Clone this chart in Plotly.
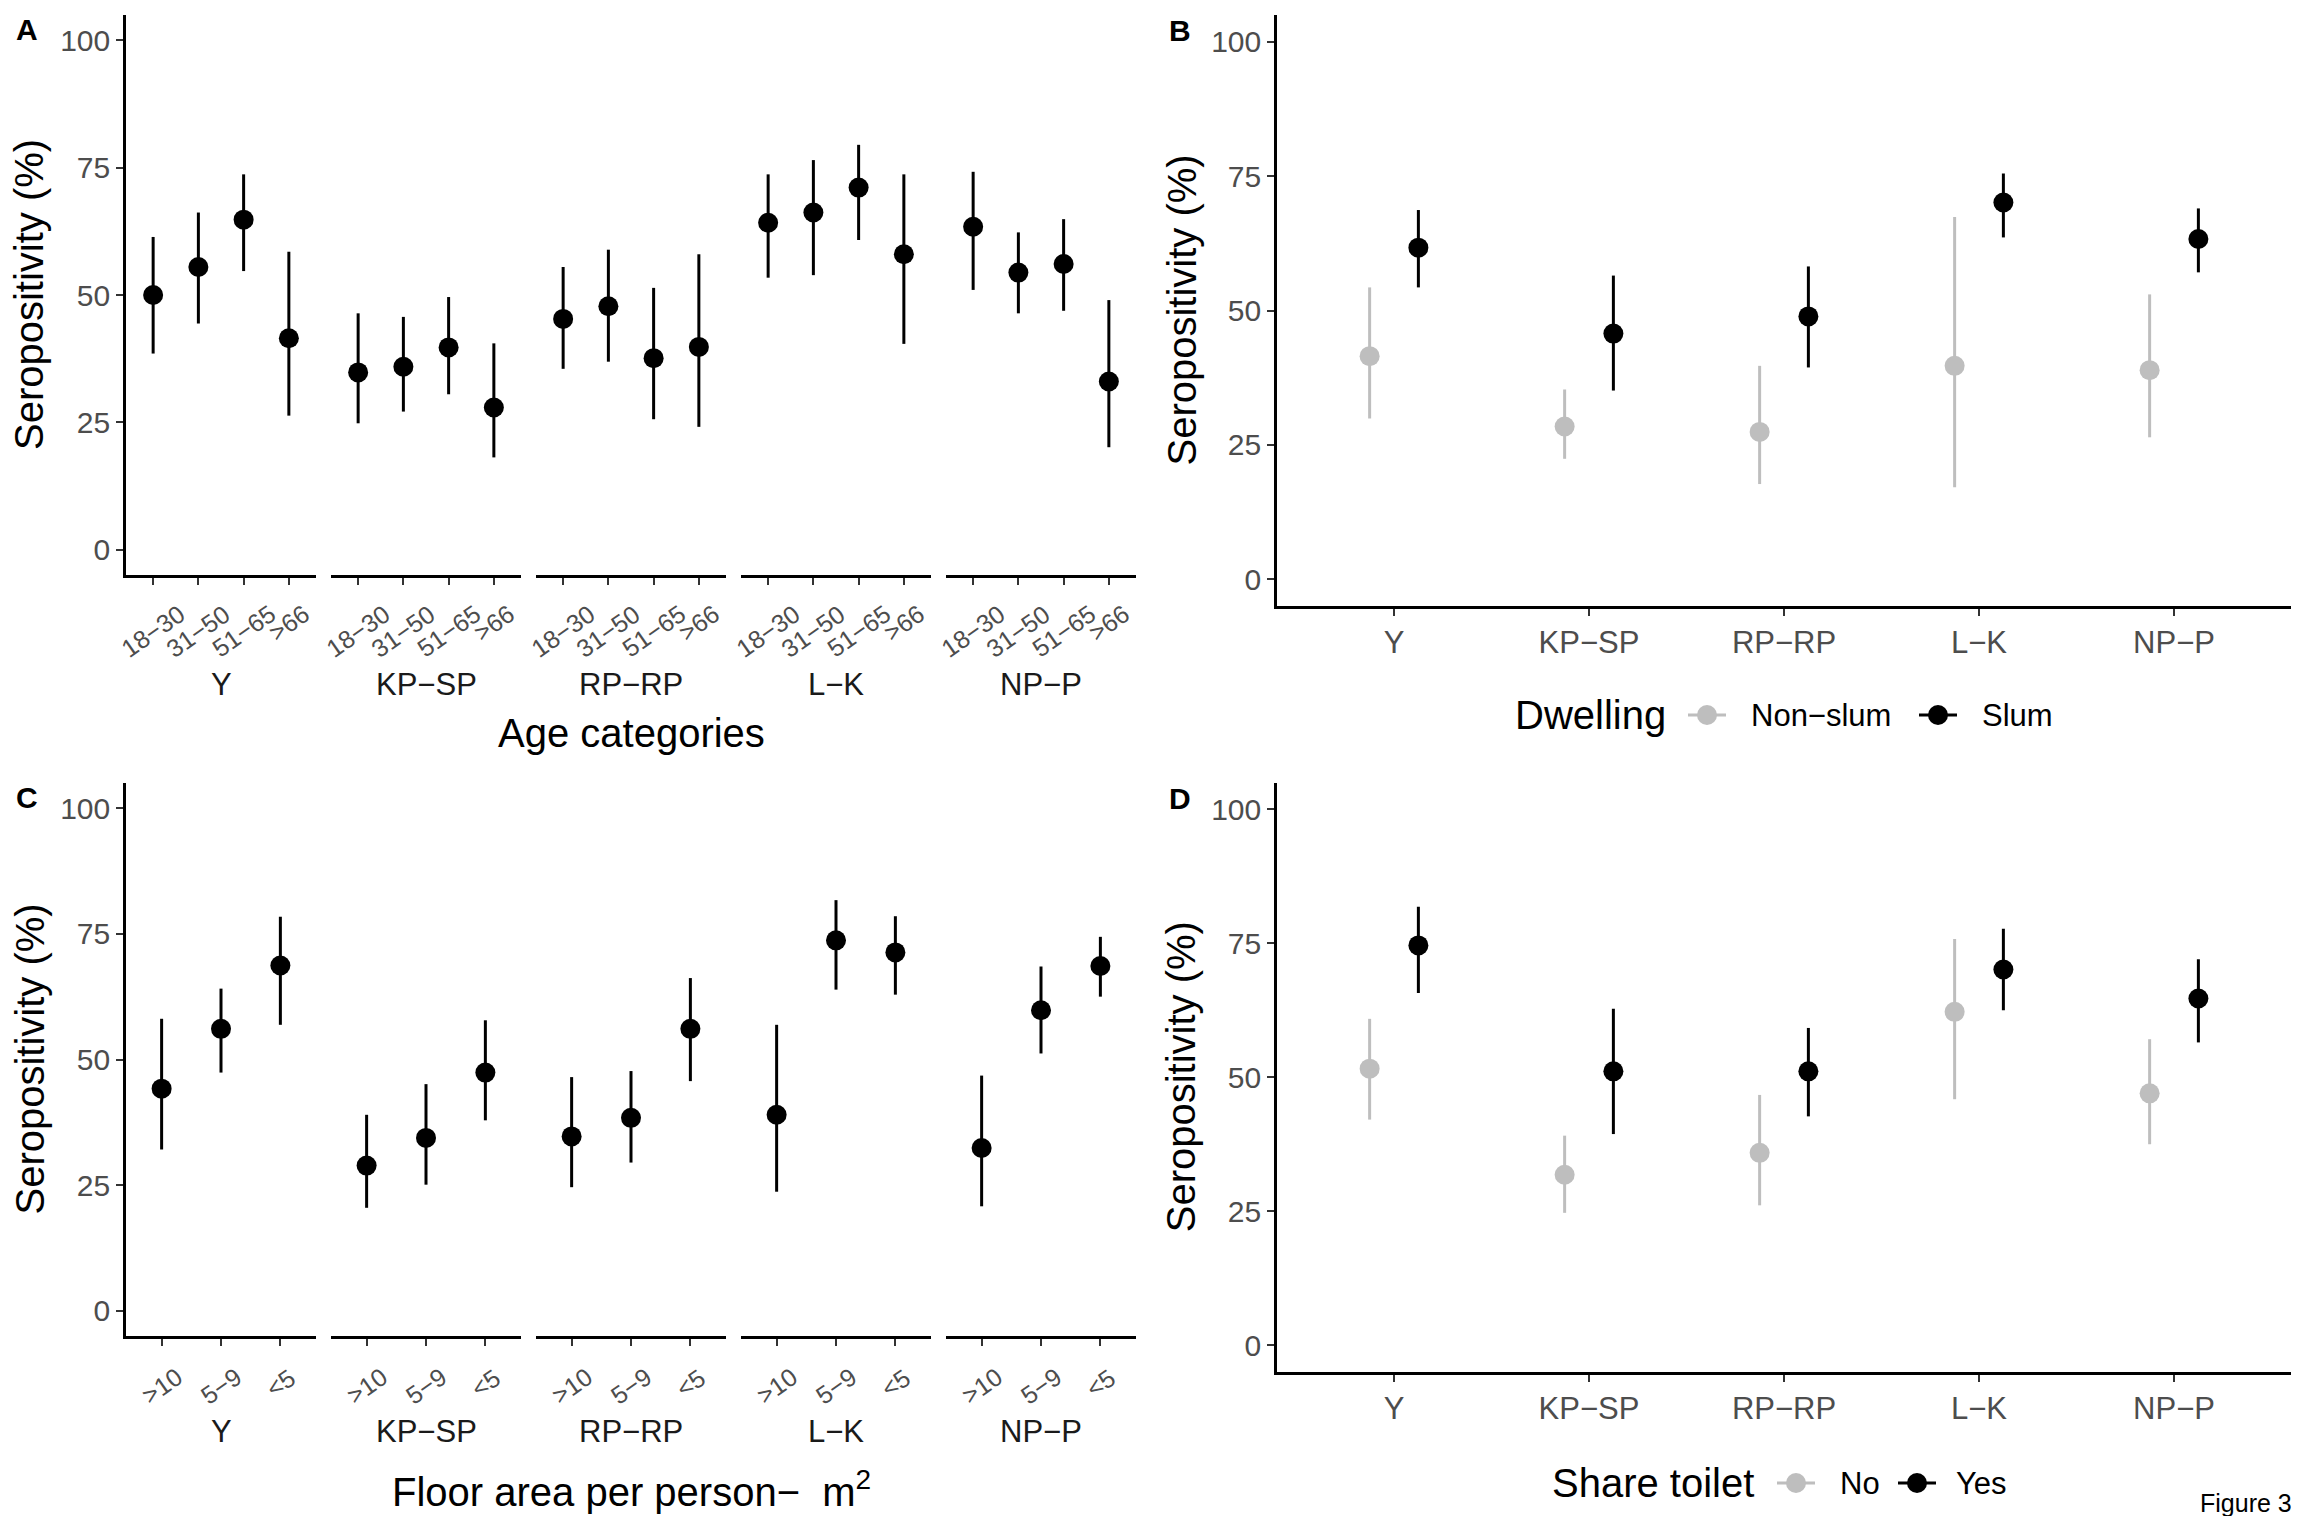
import plotly.graph_objects as go

W, H = 2297, 1516
FONT = "Liberation Sans, Arial, Helvetica, sans-serif"
GREY_TXT = "#4D4D4D"
LIGHT = "#BEBEBE"

# ---------------- data ----------------
regions = ["Y", "KP\u2212SP", "RP\u2212RP", "L\u2212K", "NP\u2212P"]

age_labels = ["18\u221230", "31\u221250", "51\u221265", ">66"]
age_est = [[50.0, 55.5, 64.8, 41.5], [34.8, 35.9, 39.7, 27.9], [45.3, 47.8, 37.6, 39.8],
           [64.2, 66.2, 71.1, 58.0], [63.4, 54.4, 56.1, 33.0]]
age_lo = [[38.5, 44.4, 54.7, 26.3], [24.8, 27.1, 30.5, 18.1], [35.5, 36.9, 25.6, 24.1],
          [53.4, 53.9, 60.8, 40.4], [51.0, 46.4, 46.9, 20.1]]
age_hi = [[61.4, 66.2, 73.7, 58.5], [46.4, 45.7, 49.6, 40.5], [55.5, 58.9, 51.4, 58.0],
          [73.7, 76.5, 79.5, 73.7], [74.2, 62.3, 64.9, 49.0]]

dwell_groups = ["Non\u2212slum", "Slum"]
nonslum_est = [41.5, 28.4, 27.4, 39.7, 38.9]
nonslum_lo = [29.9, 22.4, 17.7, 17.1, 26.4]
nonslum_hi = [54.3, 35.3, 39.7, 67.4, 53.0]
slum_est = [61.7, 45.7, 48.9, 70.1, 63.3]
slum_lo = [54.3, 35.1, 39.4, 63.6, 57.1]
slum_hi = [68.7, 56.5, 58.2, 75.5, 69.0]

floor_labels = [">10", "5\u22129", "<5"]
floor_est = [[44.2, 56.1, 68.7], [28.9, 34.4, 47.4], [34.7, 38.4, 56.1],
             [39.0, 73.7, 71.3], [32.4, 59.8, 68.6]]
floor_lo = [[32.1, 47.4, 56.9], [20.5, 25.1, 37.9], [24.6, 29.5, 45.7],
            [23.7, 63.9, 62.9], [20.8, 51.2, 62.5]]
floor_hi = [[58.1, 64.1, 78.4], [39.0, 45.1, 57.8], [46.5, 47.7, 66.2],
            [56.9, 81.7, 78.5], [46.8, 68.5, 74.4]]

toilet_groups = ["No", "Yes"]
no_est = [51.6, 31.8, 35.9, 62.2, 47.0]
no_lo = [42.1, 24.7, 26.1, 45.9, 37.5]
no_hi = [60.9, 39.1, 46.7, 75.8, 57.1]
yes_est = [74.6, 51.1, 51.1, 70.1, 64.7]
yes_lo = [65.7, 39.4, 42.7, 62.5, 56.5]
yes_hi = [81.8, 62.8, 59.2, 77.7, 72.0]

y_ticks = [0, 25, 50, 75, 100]


# ---------------- helpers ----------------
def px(x):
    return x / W


def py(y):
    return 1 - y / H


def err(est, lo, hi, color):
    return dict(type="data", symmetric=False,
                array=[h - e for e, h in zip(est, hi)],
                arrayminus=[e - l for e, l in zip(est, lo)],
                width=0, thickness=3, color=color)


AX = dict(showline=True, linecolor="black", linewidth=2.6, ticks="outside", ticklen=7,
          tickwidth=2.4, tickcolor="#333333", showgrid=False, zeroline=False)

fig = go.Figure()
annotations = []
shapes = []
layout = dict(width=W, height=H, margin=dict(l=0, r=0, t=0, b=0),
              paper_bgcolor="white", plot_bgcolor="white", showlegend=False,
              font=dict(family=FONT, color="black"))


def yaxis_def(dom, anchor):
    return dict(domain=dom, anchor=anchor, range=[-5, 105], tickvals=y_ticks,
                tickfont=dict(size=30, color=GREY_TXT, family=FONT), **AX)


def axname(n):
    return "x" if n == 1 else f"x{n}"


def lay_x(n):
    return "xaxis" if n == 1 else f"xaxis{n}"


def faceted(first_x, yname, cats, est, lo, hi, lab_top, strip_y, title, title_y):
    ncat = len(cats)
    for i, reg in enumerate(regions):
        n = first_x + i
        dom = [px(126 + 205 * i), px(316 + 205 * i)]
        layout[lay_x(n)] = dict(domain=dom, anchor=yname, range=[0.4, ncat + 0.6],
                                tickvals=list(range(1, ncat + 1)), showticklabels=False, **AX)
        xs = list(range(1, ncat + 1))
        fig.add_trace(go.Scatter(x=xs, y=est[i], mode="markers", xaxis=axname(n), yaxis=yname,
                                 marker=dict(size=20, color="black", line=dict(width=0)),
                                 error_y=err(est[i], lo[i], hi[i], "black"),
                                 name=reg, hoverinfo="x+y"))
        for k, lab in enumerate(cats):
            annotations.append(dict(x=k + 1, xref=axname(n), y=py(lab_top), yref="paper",
                                    text=lab, showarrow=False, textangle=-35,
                                    xanchor="center", yanchor="top",
                                    font=dict(size=25, color=GREY_TXT)))
        annotations.append(dict(x=(dom[0] + dom[1]) / 2, xref="paper", y=py(strip_y), yref="paper",
                                text=reg, showarrow=False, xanchor="center", yanchor="middle",
                                font=dict(size=31, color="#1A1A1A")))
    annotations.append(dict(x=px((126 + 1137) / 2), xref="paper", y=py(title_y), yref="paper",
                            text=title, showarrow=False, xanchor="center", yanchor="middle",
                            font=dict(size=40, color="black")))


def grouped(xn, yname, series):
    layout[lay_x(xn)] = dict(domain=[px(1277), px(2291)], anchor=yname, range=[0.4, 5.6],
                             tickvals=[1, 2, 3, 4, 5], ticktext=regions,
                             tickfont=dict(size=31, color=GREY_TXT), **AX)
    for (est, lo, hi, color, off, name) in series:
        xs = [j + 1 + off for j in range(len(regions))]
        fig.add_trace(go.Scatter(x=xs, y=est, mode="markers", xaxis=axname(xn), yaxis=yname,
                                 marker=dict(size=20, color=color, line=dict(width=0)),
                                 error_y=err(est, lo, hi, color), name=name))


# ---- Panel A ----
ydomA = [py(575), py(15)]
layout["yaxis"] = yaxis_def(ydomA, "x")
faceted(1, "y", age_labels, age_est, age_lo, age_hi, 597, 684, "Age categories", 733)

# ---- Panel B ----
ydomB = [py(606), py(15)]
layout["yaxis2"] = yaxis_def(ydomB, "x6")
grouped(6, "y2", [(nonslum_est, nonslum_lo, nonslum_hi, LIGHT, -0.125, dwell_groups[0]),
                  (slum_est, slum_lo, slum_hi, "black", 0.125, dwell_groups[1])])

# ---- Panel C ----
ydomC = [py(1336), py(783)]
layout["yaxis3"] = yaxis_def(ydomC, "x7")
faceted(7, "y3", floor_labels, floor_est, floor_lo, floor_hi, 1360, 1431,
        "Floor area per person\u2212  m<sup>2</sup>", 1489)

# ---- Panel D ----
ydomD = [py(1372), py(782.5)]
layout["yaxis4"] = yaxis_def(ydomD, "x12")
grouped(12, "y4", [(no_est, no_lo, no_hi, LIGHT, -0.125, toilet_groups[0]),
                   (yes_est, yes_lo, yes_hi, "black", 0.125, toilet_groups[1])])

# ---- y titles ----
for xc, dom in [(29, ydomA), (1181, ydomB), (29, ydomC), (1181, ydomD)]:
    annotations.append(dict(x=px(xc), xref="paper", y=(dom[0] + dom[1]) / 2, yref="paper",
                            text="Seropositivity (%)", showarrow=False, textangle=-90,
                            xanchor="center", yanchor="middle",
                            font=dict(size=40, color="black")))

# ---- panel letters ----
for lab, x, yc in [("A", 14, 29.5), ("B", 1167, 30), ("C", 14, 797.5), ("D", 1167, 798)]:
    annotations.append(dict(x=px(x), xref="paper", y=py(yc), yref="paper", text=f"<b>{lab}</b>",
                            showarrow=False, xanchor="left", yanchor="middle",
                            font=dict(size=30, color="black")))


# ---- legends (drawn keys) ----
def legend(title, tx, ty, items):
    annotations.append(dict(x=px(tx), xref="paper", y=py(ty), yref="paper", text=title,
                            showarrow=False, xanchor="left", yanchor="middle",
                            font=dict(size=40, color="black")))
    for (label, color, kx, lx) in items:
        shapes.append(dict(type="line", xref="paper", yref="paper", x0=px(kx - 19), x1=px(kx + 19),
                           y0=py(ty), y1=py(ty), line=dict(color=color, width=3)))
        shapes.append(dict(type="circle", xref="paper", yref="paper", xsizemode="pixel",
                           ysizemode="pixel", xanchor=px(kx), yanchor=py(ty),
                           x0=-10, x1=10, y0=-10, y1=10, fillcolor=color, line=dict(width=0)))
        annotations.append(dict(x=px(lx), xref="paper", y=py(ty), yref="paper", text=label,
                                showarrow=False, xanchor="left", yanchor="middle",
                                font=dict(size=31, color="black")))


legend("Dwelling", 1513, 715, [(dwell_groups[0], LIGHT, 1707, 1749),
                                (dwell_groups[1], "black", 1938, 1980)])
legend("Share toilet", 1550, 1483, [(toilet_groups[0], LIGHT, 1796, 1838),
                                     (toilet_groups[1], "black", 1917, 1954)])

annotations.append(dict(x=px(2294), xref="paper", y=py(1519), yref="paper", text="Figure 3",
                        showarrow=False, xanchor="right", yanchor="bottom",
                        font=dict(size=25, color="black")))

layout["annotations"] = annotations
layout["shapes"] = shapes
fig.update_layout(**layout)
fig.write_html("out.html", config={"displayModeBar": False},
               post_script="document.body.style.margin='0px';document.body.style.padding='0px';"
                           "document.documentElement.style.overflow='hidden';")
